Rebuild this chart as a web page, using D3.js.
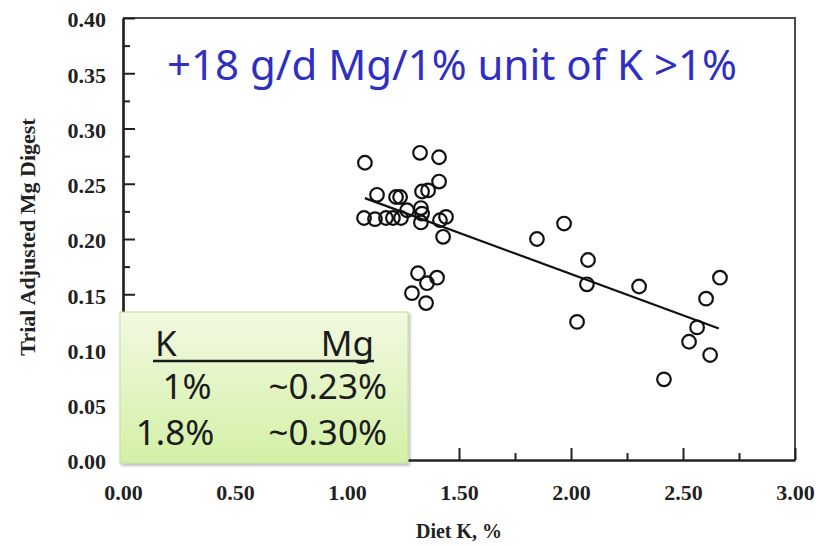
<!DOCTYPE html>
<html>
<head>
<meta charset="utf-8">
<script src="https://cdn.jsdelivr.net/npm/d3@7"></script>
<style>
  html, body { margin: 0; padding: 0; background: #ffffff; }
  svg { display: block; }
</style>
</head>
<body>
<svg id="chart" width="820" height="546"></svg>
<script>
// ---- data ----
const dietK = [1.080, 1.326, 1.411, 1.411, 1.335, 1.362, 1.134, 1.219, 1.237, 1.076,
               1.125, 1.174, 1.205, 1.241, 1.268, 1.330, 1.335, 1.330, 1.415, 1.442,
               1.429, 1.317, 1.402, 1.357, 1.290, 1.353,
               1.848, 1.969, 2.076, 2.071, 2.027, 2.304, 2.415, 2.603, 2.563, 2.527, 2.621, 2.665];
const mgDigest = [0.269, 0.278, 0.274, 0.252, 0.243, 0.244, 0.240, 0.238, 0.238, 0.219,
                  0.218, 0.219, 0.219, 0.219, 0.226, 0.228, 0.223, 0.215, 0.217, 0.220,
                  0.202, 0.169, 0.165, 0.160, 0.151, 0.142,
                  0.200, 0.214, 0.181, 0.159, 0.125, 0.157, 0.073, 0.146, 0.120, 0.107, 0.095, 0.165];
const fitK = [1.08, 2.66];
const fitMg = [0.237, 0.119];
const xTicksMajor = [0, 0.5, 1.0, 1.5, 2.0, 2.5, 3.0];
const xTicksMinor = [0.25, 0.75, 1.25, 1.75, 2.25, 2.75];
const yTicksMajor = [0, 0.05, 0.10, 0.15, 0.20, 0.25, 0.30, 0.35, 0.40];
const yTicksMinor = [0.025, 0.075, 0.125, 0.175, 0.225, 0.275, 0.325, 0.375];
const titleText = "+18 g/d Mg/1% unit of K >1%";
const xTitle = "Diet K, %";
const yTitle = "Trial Adjusted Mg Digest";
const tableHeader = ["K", "Mg"];
const tableK = ["1%", "1.8%"];
const tableMg = ["~0.23%", "~0.30%"];

// ---- layout ----
const svg = d3.select("#chart");
const x = d3.scaleLinear().domain([0, 3]).range([123, 795]);
const y = d3.scaleLinear().domain([0, 0.4]).range([460, 18]);
const serif = "'Liberation Serif', 'Times New Roman', serif";
const sans = "'Noto Sans', 'Open Sans', sans-serif";

// frame (top + right)
svg.append("path")
  .attr("d", `M${x(0)},${y(0.4)} H${x(3)} V${y(0)}`)
  .attr("fill", "none").attr("stroke", "#4a4a4a").attr("stroke-width", 2);

// axes
const fmt = d3.format(".2f");
const gx = svg.append("g").attr("transform", `translate(0,${y(0)})`)
  .call(d3.axisBottom(x).tickValues(xTicksMajor).tickFormat(fmt).tickSizeInner(-12).tickSizeOuter(0).tickPadding(24));
const gxm = svg.append("g").attr("transform", `translate(0,${y(0)})`)
  .call(d3.axisBottom(x).tickValues(xTicksMinor).tickFormat("").tickSizeInner(-7).tickSizeOuter(0));
const gy = svg.append("g").attr("transform", `translate(${x(0)},0)`)
  .call(d3.axisLeft(y).tickValues(yTicksMajor).tickFormat(fmt).tickSizeInner(-12).tickSizeOuter(0).tickPadding(17));
const gym = svg.append("g").attr("transform", `translate(${x(0)},0)`)
  .call(d3.axisLeft(y).tickValues(yTicksMinor).tickFormat("").tickSizeInner(-7).tickSizeOuter(0));

[gx, gxm, gy, gym].forEach(g => {
  g.selectAll(".domain").attr("stroke", "#222").attr("stroke-width", 2.2);
  g.selectAll(".tick line").attr("stroke", "#222").attr("stroke-width", 2);
  g.selectAll("text").attr("font-family", serif).attr("font-weight", "bold")
    .attr("font-size", 22).attr("fill", "#222");
});
gy.selectAll("text").attr("dy", "0.40em");

// axis titles
svg.append("text").attr("x", 459).attr("y", 538).attr("text-anchor", "middle")
  .attr("font-family", serif).attr("font-weight", "bold").attr("font-size", 20).attr("fill", "#222")
  .text(xTitle);
svg.append("text").attr("transform", "translate(35,237) rotate(-90)").attr("text-anchor", "middle")
  .attr("font-family", serif).attr("font-weight", "bold").attr("font-size", 22).attr("fill", "#222")
  .text(yTitle);

// regression line
svg.append("line")
  .attr("x1", x(fitK[0])).attr("y1", y(fitMg[0]))
  .attr("x2", x(fitK[1])).attr("y2", y(fitMg[1]))
  .attr("stroke", "#111").attr("stroke-width", 2.2);

// points
svg.append("g").selectAll("circle")
  .data(dietK.map((k, i) => [k, mgDigest[i]]))
  .join("circle")
  .attr("cx", d => x(d[0])).attr("cy", d => y(d[1]))
  .attr("r", 6.8)
  .attr("fill", "none").attr("stroke", "#111").attr("stroke-width", 2.2);

// green box
const defs = svg.append("defs");
const grad = defs.append("linearGradient").attr("id", "gbox").attr("x1", 0).attr("y1", 0).attr("x2", 0).attr("y2", 1);
grad.append("stop").attr("offset", "0%").attr("stop-color", "#f2f9e1");
grad.append("stop").attr("offset", "100%").attr("stop-color", "#d3f0a6");
const filt = defs.append("filter").attr("id", "shadow").attr("x", "-10%").attr("y", "-10%").attr("width", "120%").attr("height", "120%");
filt.append("feDropShadow").attr("dx", 1.5).attr("dy", 2).attr("stdDeviation", 1.5)
  .attr("flood-color", "#000").attr("flood-opacity", 0.3);

svg.append("rect")
  .attr("x", 120).attr("y", 312).attr("width", 288).attr("height", 151)
  .attr("fill", "url(#gbox)").attr("stroke", "#c4dc9c").attr("stroke-width", 1)
  .attr("filter", "url(#shadow)");

const tcol = "#1c1c1c";
const tsize = 35;
svg.append("text").attr("x", 155).attr("y", 356).attr("font-family", sans).attr("font-size", tsize)
  .attr("fill", tcol).text(tableHeader[0]);
svg.append("text").attr("x", 374).attr("y", 356).attr("text-anchor", "end").attr("font-family", sans)
  .attr("font-size", tsize).attr("fill", tcol).text(tableHeader[1]);
svg.append("line").attr("x1", 153).attr("x2", 374).attr("y1", 361).attr("y2", 361)
  .attr("stroke", tcol).attr("stroke-width", 2.5);
const rowY = [399, 445];
const kCenters = [187, 175];
tableK.forEach((t, i) => {
  svg.append("text").attr("x", kCenters[i]).attr("y", rowY[i]).attr("text-anchor", "middle")
    .attr("font-family", sans).attr("font-size", tsize).attr("fill", tcol).text(t);
});
tableMg.forEach((t, i) => {
  svg.append("text").attr("x", 387).attr("y", rowY[i]).attr("text-anchor", "end")
    .attr("font-family", sans).attr("font-size", tsize).attr("fill", tcol).text(t);
});

// title
const title = svg.append("text").attr("x", 452).attr("y", 80).attr("text-anchor", "middle")
  .attr("font-family", sans).attr("font-size", 36).attr("fill", "#2f2fc4").text(titleText);
const w = title.node().getComputedTextLength();
if (w > 0) title.attr("font-size", 36 * 570 / w);
</script>
</body>
</html>
